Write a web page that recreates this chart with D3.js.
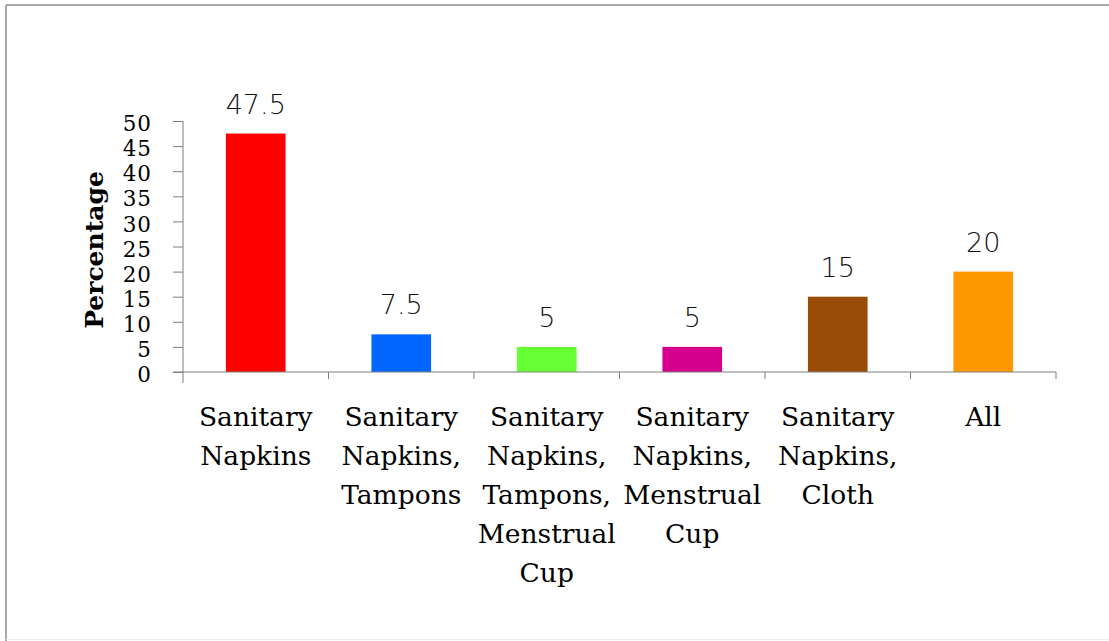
<!DOCTYPE html>
<html><head><meta charset="utf-8">
<script src="https://cdn.jsdelivr.net/npm/d3@7"></script>
<style>html,body{margin:0;padding:0;background:#fff;}</style>
</head><body>
<svg id="chart" width="1109" height="641"></svg>
<script>
const categories = ["Sanitary Napkins", "Sanitary Napkins, Tampons", "Sanitary Napkins, Tampons, Menstrual Cup", "Sanitary Napkins, Menstrual Cup", "Sanitary Napkins, Cloth", "All"];
const values = [47.5, 7.5, 5, 5, 15, 20];
const valueLabels = ["47.5", "7.5", "5", "5", "15", "20"];
const colors = ["#ff0000", "#0066ff", "#66ff33", "#d6008f", "#994c05", "#ff9900"];
const yTicks = [0, 5, 10, 15, 20, 25, 30, 35, 40, 45, 50];
const yTitle = "Percentage";

const svg = d3.select("#chart");
// outer border (top and left strong, bottom faint)
svg.append("line").attr("x1", 6).attr("x2", 1109).attr("y1", 5).attr("y2", 5).attr("stroke", "#a8a8a8").attr("stroke-width", 2);
svg.append("line").attr("x1", 6).attr("x2", 6).attr("y1", 5).attr("y2", 641).attr("stroke", "#a8a8a8").attr("stroke-width", 2);
svg.append("line").attr("x1", 6).attr("x2", 1109).attr("y1", 639.5).attr("y2", 639.5).attr("stroke", "#ececec").attr("stroke-width", 1);

const x0 = 183, x1 = 1056, yTop = 121, yBase = 372;
const x = d3.scaleBand().domain(categories).range([x0, x1]).paddingInner(0.59).paddingOuter(0.295);
const y = d3.scaleLinear().domain([0, 50]).range([yBase, yTop]);
const axisColor = "#7f7f7f";

// bars
svg.selectAll("rect.bar").data(values).enter().append("rect")
  .attr("class", "bar")
  .attr("x", (d, i) => x(categories[i]))
  .attr("width", x.bandwidth())
  .attr("y", d => y(d))
  .attr("height", d => y(0) - y(d))
  .attr("fill", (d, i) => colors[i]);

// y axis
const yAxis = svg.append("g").attr("transform", `translate(${x0},0)`)
  .call(d3.axisLeft(y).tickValues(yTicks).tickSize(10).tickPadding(21).tickFormat(d3.format("d")));
yAxis.select(".domain").attr("stroke", axisColor).attr("d", `M0,${yTop}V${yBase + 11}`);
yAxis.selectAll(".tick line").attr("stroke", axisColor);
yAxis.selectAll(".tick text").attr("font-family", "DejaVu Serif").attr("font-size", 21.5)
  .attr("fill", "#000").attr("dy", "0.45em").attr("letter-spacing", 1);

// x axis
const bounds = categories.map(c => x(c) - x.step() * x.paddingInner() / 2).concat([x1]);
const xAxis = svg.append("g");
xAxis.append("line").attr("x1", x0 - 10).attr("x2", x1).attr("y1", yBase).attr("y2", yBase).attr("stroke", axisColor);
xAxis.selectAll("line.tk").data(bounds.slice(1)).enter().append("line").attr("class", "tk")
  .attr("x1", d => d).attr("x2", d => d).attr("y1", yBase).attr("y2", yBase + 7).attr("stroke", axisColor);

// category labels
const lab = svg.append("g").attr("font-family", "DejaVu Serif").attr("font-size", 26.5).attr("fill", "#000").attr("text-anchor", "middle");
categories.forEach(c => {
  const t = lab.append("text").attr("x", x(c) + x.bandwidth() / 2).attr("y", yBase + 54);
  c.split(" ").forEach((w, j) => {
    t.append("tspan").attr("x", x(c) + x.bandwidth() / 2).attr("dy", j === 0 ? 0 : 39).text(w);
  });
});

// value labels
svg.selectAll("text.val").data(values).enter().append("text").attr("class", "val")
  .attr("x", (d, i) => x(categories[i]) + x.bandwidth() / 2)
  .attr("y", d => y(d) - 20)
  .attr("text-anchor", "middle")
  .attr("font-family", "DejaVu Sans").attr("font-size", 27).attr("font-weight", 300)
  .attr("fill", "#111")
  .text((d, i) => valueLabels[i]);

// y title
svg.append("text").attr("transform", `translate(103,250) rotate(-90)`)
  .attr("text-anchor", "middle").attr("font-family", "DejaVu Serif").attr("font-weight", "bold")
  .attr("font-size", 25).attr("fill", "#000").text(yTitle);
</script>
</body></html>
